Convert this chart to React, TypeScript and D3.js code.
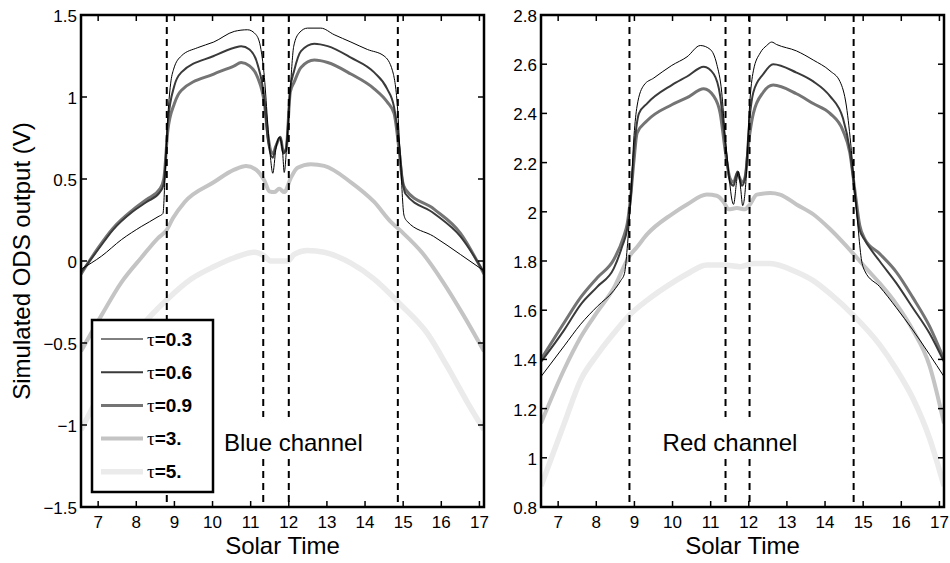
import React from 'react';
import * as d3 from 'd3';

// ---------- data ----------
const xTicks = [7, 8, 9, 10, 11, 12, 13, 14, 15, 16, 17];
const blueYTicks = [-1.5, -1, -0.5, 0, 0.5, 1, 1.5];
const redYTicks = [0.8, 1, 1.2, 1.4, 1.6, 1.8, 2, 2.2, 2.4, 2.6, 2.8];
const tauLabels = ['0.3', '0.6', '0.9', '3.', '5.'];
const blueDashed = [8.8, 11.33, 12.0, 14.86];
const redDashed = [8.87, 11.39, 12.02, 14.75];

const blueT03: [number, number][] = [[6.55,-0.05],[7.09,0.03],[7.61,0.13],[8.13,0.21],[8.57,0.27],[8.70,0.29],[8.76,0.55],[8.82,0.85],[8.90,1.08],[8.98,1.17],[9.18,1.25],[9.6,1.30],[10.03,1.335],[10.57,1.40],[10.92,1.41],[11.14,1.38],[11.27,1.29],[11.36,1.12],[11.45,0.83],[11.52,0.63],[11.58,0.535],[11.66,0.68],[11.75,0.755],[11.84,0.656],[11.88,0.54],[11.95,0.72],[12.04,1.05],[12.13,1.31],[12.27,1.39],[12.49,1.42],[12.84,1.42],[13.19,1.38],[13.63,1.335],[14.06,1.29],[14.5,1.25],[14.72,1.16],[14.85,0.94],[14.93,0.61],[15.02,0.28],[15.1,0.243],[15.8,0.15],[16.5,0.04],[17.12,-0.06]];
const blueT06: [number, number][] = [[6.55,-0.07],[7.0,0.07],[7.39,0.19],[7.9,0.30],[8.27,0.36],[8.62,0.42],[8.72,0.47],[8.83,0.85],[9.0,1.07],[9.18,1.15],[10.03,1.25],[10.57,1.30],[10.75,1.31],[10.97,1.29],[11.18,1.20],[11.36,0.985],[11.45,0.74],[11.58,0.63],[11.66,0.70],[11.78,0.755],[11.86,0.656],[11.93,0.69],[12.04,1.05],[12.14,1.16],[12.32,1.28],[12.67,1.325],[13.02,1.31],[13.63,1.24],[14.24,1.15],[14.58,1.05],[14.76,0.94],[14.89,0.72],[14.98,0.50],[15.06,0.41],[15.81,0.29],[16.5,0.15],[17.12,-0.07]];
const blueT09: [number, number][] = [[6.55,-0.08],[7.0,0.08],[7.39,0.20],[7.9,0.31],[8.27,0.375],[8.62,0.44],[8.72,0.50],[8.83,0.80],[9.0,0.96],[9.18,1.04],[10.03,1.14],[10.57,1.19],[10.75,1.21],[10.97,1.19],[11.18,1.12],[11.36,0.96],[11.45,0.77],[11.58,0.655],[11.66,0.70],[11.78,0.755],[11.86,0.66],[11.93,0.68],[12.04,1.03],[12.14,1.09],[12.32,1.18],[12.67,1.225],[13.02,1.21],[13.63,1.14],[14.24,1.05],[14.58,0.97],[14.76,0.90],[14.89,0.68],[14.98,0.49],[15.06,0.436],[15.81,0.316],[16.5,0.17],[17.12,-0.08]];
const blueT3: [number, number][] = [[6.55,-0.55],[7.09,-0.33],[7.61,-0.13],[8.13,0.02],[8.57,0.14],[8.8,0.19],[8.96,0.26],[9.27,0.36],[10.03,0.48],[10.57,0.557],[10.88,0.58],[11.14,0.557],[11.36,0.49],[11.49,0.425],[11.62,0.42],[11.75,0.44],[11.88,0.42],[12.06,0.51],[12.23,0.568],[12.58,0.59],[12.93,0.58],[13.63,0.48],[14.24,0.36],[14.67,0.24],[14.93,0.185],[15.5,0.05],[16.05,-0.13],[16.58,-0.33],[17.12,-0.55]];
const blueT5: [number, number][] = [[6.55,-1.03],[7.09,-0.79],[7.61,-0.57],[8.13,-0.40],[8.83,-0.23],[9.44,-0.11],[10.03,-0.035],[10.57,0.02],[11.1,0.053],[11.36,0.03],[11.53,0.0],[11.97,0.0],[12.14,0.04],[12.49,0.064],[12.93,0.053],[13.63,-0.013],[14.24,-0.11],[14.93,-0.265],[15.63,-0.44],[16.15,-0.64],[16.68,-0.86],[17.12,-1.03]];

const redT03: [number, number][] = [[6.55,1.33],[7.16,1.455],[7.59,1.543],[8.03,1.616],[8.46,1.68],[8.64,1.72],[8.74,1.75],[8.81,1.85],[8.9,2.05],[8.99,2.31],[9.07,2.43],[9.25,2.515],[9.51,2.544],[9.98,2.595],[10.38,2.63],[10.73,2.676],[10.99,2.66],[11.16,2.60],[11.29,2.486],[11.38,2.31],[11.47,2.164],[11.56,2.047],[11.60,2.03],[11.69,2.135],[11.73,2.164],[11.79,2.09],[11.84,2.025],[11.93,2.135],[12.02,2.43],[12.12,2.573],[12.30,2.646],[12.47,2.676],[12.60,2.69],[12.73,2.68],[13.25,2.654],[13.69,2.617],[14.13,2.573],[14.39,2.53],[14.56,2.43],[14.69,2.25],[14.78,2.09],[14.87,1.93],[14.95,1.81],[15.04,1.76],[15.43,1.696],[15.87,1.61],[16.30,1.52],[16.74,1.42],[17.12,1.33]];
const redT06: [number, number][] = [[6.55,1.39],[7.16,1.52],[7.59,1.623],[8.03,1.696],[8.46,1.77],[8.68,1.86],[8.81,1.93],[8.9,2.047],[8.99,2.25],[9.12,2.40],[9.33,2.44],[9.98,2.515],[10.38,2.55],[10.82,2.59],[11.08,2.56],[11.25,2.47],[11.38,2.28],[11.51,2.12],[11.6,2.106],[11.70,2.164],[11.82,2.106],[11.90,2.135],[12.02,2.38],[12.12,2.486],[12.38,2.56],[12.64,2.60],[13.25,2.566],[13.69,2.53],[14.13,2.47],[14.47,2.38],[14.65,2.25],[14.78,2.077],[14.90,1.93],[15.04,1.886],[15.43,1.80],[15.87,1.71],[16.30,1.61],[16.74,1.506],[17.12,1.39]];
const redT09: [number, number][] = [[6.55,1.40],[7.16,1.55],[7.59,1.652],[8.03,1.733],[8.46,1.806],[8.72,1.90],[8.81,1.95],[8.9,2.06],[8.99,2.21],[9.07,2.32],[9.33,2.37],[9.98,2.435],[10.38,2.464],[10.82,2.50],[11.08,2.47],[11.25,2.40],[11.38,2.25],[11.51,2.135],[11.60,2.12],[11.70,2.157],[11.82,2.12],[11.90,2.14],[12.02,2.31],[12.12,2.40],[12.38,2.486],[12.64,2.515],[13.25,2.48],[13.69,2.44],[14.13,2.40],[14.47,2.33],[14.65,2.24],[14.78,2.09],[14.91,1.945],[15.04,1.89],[15.43,1.83],[15.87,1.755],[16.30,1.652],[16.74,1.535],[17.12,1.40]];
const redT3: [number, number][] = [[6.55,1.14],[7.16,1.36],[7.59,1.49],[8.03,1.594],[8.46,1.69],[8.87,1.82],[9.07,1.857],[9.33,1.908],[9.98,1.99],[10.38,2.03],[10.90,2.07],[11.16,2.065],[11.34,2.04],[11.47,2.01],[11.69,2.015],[11.90,2.01],[12.03,2.03],[12.21,2.07],[12.56,2.076],[12.82,2.07],[13.25,2.03],[13.69,1.99],[14.13,1.93],[14.74,1.83],[15.08,1.77],[15.43,1.71],[15.87,1.625],[16.30,1.52],[16.74,1.375],[17.12,1.14]];
const redT5: [number, number][] = [[6.55,0.885],[7.16,1.14],[7.59,1.316],[8.03,1.42],[8.46,1.506],[8.87,1.58],[9.33,1.64],[9.98,1.71],[10.38,1.747],[10.90,1.784],[11.34,1.784],[11.77,1.777],[12.12,1.79],[12.56,1.79],[13.25,1.755],[13.69,1.72],[14.13,1.667],[14.74,1.58],[15.43,1.46],[15.87,1.36],[16.30,1.243],[16.74,1.08],[17.12,0.885]];

const blueSeries = [blueT03, blueT06, blueT09, blueT3, blueT5];
const redSeries = [redT03, redT06, redT09, redT3, redT5];

// ---------- styles ----------
const colors = ['#000000', '#3a3a3a', '#747474', '#c4c4c4', '#ebebeb'];
const widths = [1, 2, 3, 4, 5.5];
const FONT = '"Liberation Sans", Arial, Helvetica, sans-serif';
const X_DOMAIN: [number, number] = [6.55, 17.12];
const TOP = 15;
const BOTTOM = 507;

const fmt = (v: number) => (v < 0 ? '\u2212' + String(-v) : String(v));

function Panel(props: {
  id: string; left: number; right: number; series: [number, number][][];
  yDomain: [number, number]; yTicks: number[]; dashed: number[];
  label: string; labelX: number; legend?: boolean; yLabel?: string;
}) {
  const { id, left, right, series, yDomain, yTicks, dashed, label, labelX, legend, yLabel } = props;
  const x = d3.scaleLinear().domain(X_DOMAIN).range([left, right]);
  const y = d3.scaleLinear().domain(yDomain).range([BOTTOM, TOP]);
  const line = d3.line<[number, number]>().x(d => x(d[0])).y(d => y(d[1])).curve(d3.curveMonotoneX);
  const order = [4, 3, 2, 1, 0];
  const tl = 6;
  const lx = x(labelX);
  return (
    <g>
      <defs>
        <clipPath id={id}>
          <rect x={left} y={TOP} width={right - left} height={BOTTOM - TOP} />
        </clipPath>
      </defs>
      <g clipPath={`url(#${id})`}>
        {order.map(i => (
          <path key={i} d={line(series[i]) || ''} fill="none" stroke={colors[i]}
            strokeWidth={widths[i]} strokeLinejoin="round" strokeLinecap="butt" />
        ))}
        {dashed.map((d, i) => (
          <line key={i} x1={x(d)} x2={x(d)} y1={TOP} y2={BOTTOM} stroke="#000"
            strokeWidth={2} strokeDasharray="7,5" />
        ))}
        <rect x={lx - 4} y={417} width={label.length * 12.2 + 8} height={42} fill="#fff" />
        <text x={lx} y={451} fontFamily={FONT} fontSize={24} fill="#000">{label}</text>
      </g>
      {xTicks.map(t => (
        <g key={'x' + t}>
          <line x1={x(t)} x2={x(t)} y1={BOTTOM} y2={BOTTOM - tl} stroke="#000" strokeWidth={1.5} />
          <line x1={x(t)} x2={x(t)} y1={TOP} y2={TOP + tl} stroke="#000" strokeWidth={1.5} />
          <text x={x(t)} y={528} textAnchor="middle" fontFamily={FONT} fontSize={17}>{fmt(t)}</text>
        </g>
      ))}
      {yTicks.map(t => (
        <g key={'y' + t}>
          <line x1={left} x2={left + tl} y1={y(t)} y2={y(t)} stroke="#000" strokeWidth={1.5} />
          <line x1={right} x2={right - tl} y1={y(t)} y2={y(t)} stroke="#000" strokeWidth={1.5} />
          <text x={left - 4} y={y(t) + 7} textAnchor="end" fontFamily={FONT} fontSize={17}>{fmt(t)}</text>
        </g>
      ))}
      <rect x={left} y={TOP} width={right - left} height={BOTTOM - TOP} fill="none" stroke="#000" strokeWidth={2.5} />
      <text x={(left + right) / 2} y={554} textAnchor="middle" fontFamily={FONT} fontSize={24}>Solar Time</text>
      {yLabel && (
        <text transform={`translate(30,${(TOP + BOTTOM) / 2}) rotate(-90)`} textAnchor="middle"
          fontFamily={FONT} fontSize={24}>{yLabel}</text>
      )}
      {legend && (
        <g>
          <rect x={92} y={320} width={121} height={172} fill="#fff" stroke="#000" strokeWidth={2.5} />
          {tauLabels.map((lab, i) => {
            const ry = 339 + i * 33.2;
            return (
              <g key={lab}>
                <line x1={101} x2={143} y1={ry} y2={ry} stroke={colors[i]} strokeWidth={widths[i]} />
                <text x={147} y={ry + 6.5} fontSize={19} fontFamily={FONT} fontWeight="bold">
                  <tspan fontFamily='"Liberation Serif", "DejaVu Serif", serif' fontWeight="normal">τ</tspan>
                  <tspan>{'=' + lab}</tspan>
                </text>
              </g>
            );
          })}
        </g>
      )}
    </g>
  );
}

export default function App() {
  return (
    <svg width={950} height={563} viewBox="0 0 950 563"
      style={{ position: 'absolute', left: 0, top: 0, background: '#fff' }}>
      <rect x={0} y={0} width={950} height={563} fill="#fff" />
      <Panel id="clipBlue" left={81} right={484} series={blueSeries} yDomain={[-1.5, 1.5]}
        yTicks={blueYTicks} dashed={blueDashed} label="Blue channel" labelX={10.3}
        legend yLabel="Simulated ODS output (V)" />
      <Panel id="clipRed" left={541} right={944} series={redSeries} yDomain={[0.8, 2.8]}
        yTicks={redYTicks} dashed={redDashed} label="Red channel" labelX={9.74} />
    </svg>
  );
}
